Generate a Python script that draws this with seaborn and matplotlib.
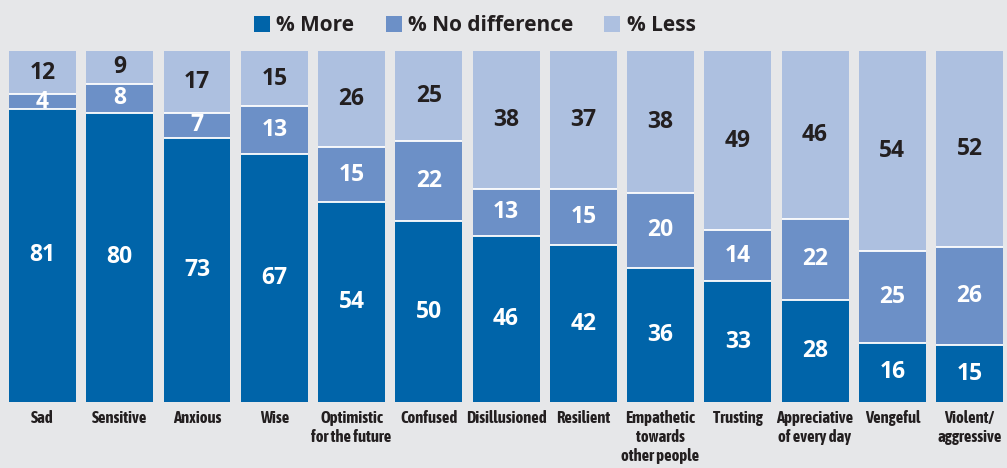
import matplotlib
matplotlib.use("Agg")
import matplotlib.pyplot as plt
from matplotlib.patches import Patch
import numpy as np
import pandas as pd
import seaborn as sns

categories = ["Sad", "Sensitive", "Anxious", "Wise", "Optimistic\nfor the future",
              "Confused", "Disillusioned", "Resilient", "Empathetic\ntowards\nother people",
              "Trusting", "Appreciative\nof every day", "Vengeful", "Violent/\naggressive"]
more = [81, 80, 73, 67, 54, 50, 46, 42, 36, 33, 28, 16, 15]
nodiff = [4, 8, 7, 13, 15, 22, 13, 15, 20, 14, 22, 25, 26]
less = [12, 9, 17, 15, 26, 25, 38, 37, 38, 49, 46, 54, 52]
series_names = ["% More", "% No difference", "% Less"]

c_more = "#0064a9"
c_nod = "#6c90c7"
c_less = "#adc0e0"
bg = "#e6e7e9"
dark = "#231f20"

sns.set_theme(style="white")
cond = ["Asap Condensed", "DejaVu Sans"]
wide = ["Open Sans", "DejaVu Sans"]
plt.rcParams["font.family"] = cond

m = np.array(more, float)
n = np.array(nodiff, float)
l = np.array(less, float)
tot = m + n + l
pm, pn, pl = m / tot, n / tot, l / tot

df = pd.DataFrame({"cat": categories, "c1": pm, "c2": pm + pn, "c3": pm + pn + pl})

fig = plt.figure(figsize=(10.07, 4.68), dpi=100, facecolor=bg)
ax = fig.add_axes([0, (468 - 402) / 468, 1, (402 - 51) / 468])
ax.set_facecolor(bg)

w = 0.867
sns.barplot(data=df, x="cat", y="c3", color=c_less, width=w, linewidth=0, saturation=1, ax=ax)
sns.barplot(data=df, x="cat", y="c2", color=c_nod, width=w, linewidth=0, saturation=1, ax=ax)
sns.barplot(data=df, x="cat", y="c1", color=c_more, width=w, linewidth=0, saturation=1, ax=ax)

xs = np.arange(len(categories))
for i in xs:
    for b in (pm[i], pm[i] + pn[i]):
        ax.hlines(b, i - w / 2, i + w / 2, color="white", linewidth=1.3, zorder=5)

numfont = dict(family=wide, fontweight="bold", fontsize=16.5)
for i in xs:
    ax.text(i, pm[i] / 2, f"{more[i]}", ha="center", va="center", color="white", zorder=6, **numfont)
    ax.text(i, pm[i] + pn[i] / 2, f"{nodiff[i]}", ha="center", va="center", color="white", zorder=6, **numfont)
    ax.text(i, pm[i] + pn[i] + pl[i] / 2, f"{less[i]}", ha="center", va="center", color=dark, zorder=6, **numfont)

ax.set_xlim(-0.55, len(categories) - 1 + 0.485)
ax.set_ylim(0, 1)
ax.set_xlabel("")
ax.set_ylabel("")
ax.set_yticks([])
ax.tick_params(axis="x", length=0, pad=6)
ax.set_xticks(xs)
ax.set_xticklabels(categories, fontsize=12, fontweight="bold", color=dark, linespacing=1.2, va="top")
for s in ax.spines.values():
    s.set_visible(False)

handles = [Patch(facecolor=c, edgecolor="none") for c in (c_more, c_nod, c_less)]
fig.legend(handles, series_names, loc="center", bbox_to_anchor=(0.4715, 0.945), ncol=3,
           frameon=False, handlelength=0.77, handleheight=0.77, handletextpad=0.3,
           columnspacing=1.5, borderpad=0, prop=dict(family=wide, weight="bold", size=15),
           labelcolor=dark)

fig.savefig("out.png", dpi=100, facecolor=bg)
